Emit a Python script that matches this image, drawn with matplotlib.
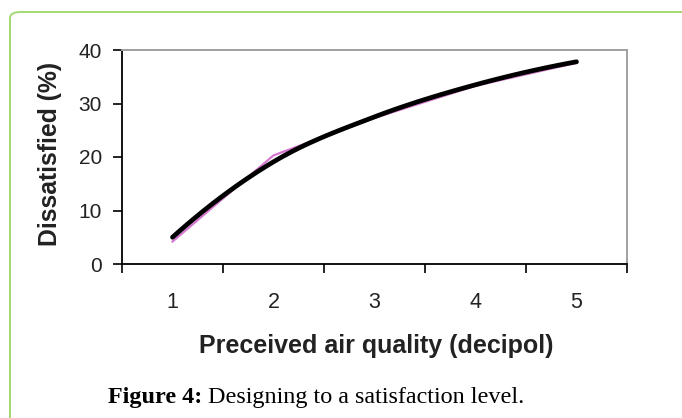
import matplotlib
matplotlib.use("Agg")
import matplotlib.pyplot as plt
import numpy as np
from matplotlib.patches import FancyBboxPatch

# Data
categories = ["1", "2", "3", "4", "5"]
dissatisfied_fit = [5.0, 19.1, 27.5, 33.5, 37.8]      # black smoothed curve
dissatisfied_design = [4.2, 20.3, 27.3, 33.3, 37.6]   # magenta line
y_ticks = [0, 10, 20, 30, 40]

W, H = 682, 418
fig = plt.figure(figsize=(W / 100, H / 100), dpi=100)

# green rounded frame
frame = FancyBboxPatch((10 / W, -0.2), 1.2, (H - 12) / H + 0.2,
                       boxstyle="round,pad=0,rounding_size=0.015",
                       transform=fig.transFigure, facecolor="none",
                       edgecolor="#a3d874", linewidth=1.4, zorder=-5)
fig.patches.append(frame)

ax = fig.add_axes([122 / W, (H - 264) / H, (627 - 122) / W, (264 - 50) / H])
ax.set_facecolor("none")

x = np.arange(1, len(categories) + 1)


def catmull_rom(xs, ys, n=30):
    xs = np.asarray(xs, float)
    ys = np.asarray(ys, float)
    # quadratic extrapolation for phantom end points
    px = np.concatenate([[3 * xs[0] - 3 * xs[1] + xs[2]], xs, [3 * xs[-1] - 3 * xs[-2] + xs[-3]]])
    py = np.concatenate([[3 * ys[0] - 3 * ys[1] + ys[2]], ys, [3 * ys[-1] - 3 * ys[-2] + ys[-3]]])
    outx, outy = [], []
    for i in range(1, len(px) - 2):
        t = np.linspace(0, 1, n, endpoint=(i == len(px) - 3))
        for arr, out in ((px, outx), (py, outy)):
            p0, p1, p2, p3 = arr[i - 1], arr[i], arr[i + 1], arr[i + 2]
            out.extend(0.5 * ((2 * p1) + (-p0 + p2) * t
                              + (2 * p0 - 5 * p1 + 4 * p2 - p3) * t ** 2
                              + (-p0 + 3 * p1 - 3 * p2 + p3) * t ** 3))
    return np.array(outx), np.array(outy)


ax.plot(x, dissatisfied_design, color="#d678d0", linewidth=1.6, zorder=2)
sx, sy = catmull_rom(x, dissatisfied_fit)
ax.plot(sx, sy, color="black", linewidth=3.4, solid_capstyle="round", zorder=3)

ax.set_xlim(0.5, len(categories) + 0.5)
ax.set_ylim(0, 40)

tick_color = "#222222"
ax.set_yticks(y_ticks)
ax.set_yticklabels([str(v) for v in y_ticks], fontsize=15, family="Liberation Sans", color=tick_color)
ax.set_xticks(np.arange(0.5, len(categories) + 1, 1.0))
ax.set_xticklabels([])
ax.set_xticks(x, minor=True)
ax.set_xticklabels(categories, minor=True, fontsize=15.5, family="Liberation Sans", color=tick_color)

ax.tick_params(axis="y", which="major", direction="out", length=6.5, width=1.2, pad=8)
ax.tick_params(axis="x", which="major", direction="out", length=6.5, width=1.2)
ax.tick_params(axis="x", which="minor", length=0, pad=20)

for s in ("left", "bottom"):
    ax.spines[s].set_color("black")
    ax.spines[s].set_linewidth(1.3)
for s in ("top", "right"):
    ax.spines[s].set_color("#a0a0a0")
    ax.spines[s].set_linewidth(1.4)

fig.text(50 / W, 1 - 154 / H, "Dissatisfied (%)", rotation=90, ha="center", va="center",
         fontsize=17.8, fontweight="bold", family="Liberation Sans", color=tick_color)
fig.text(376 / W, 1 - 353 / H, "Preceived air quality (decipol)", ha="center", va="baseline",
         fontsize=18, fontweight="bold", family="Liberation Sans", color=tick_color)

base_y = 1 - 403 / H
t1 = fig.text(108 / W, base_y, "Figure 4:", ha="left", va="baseline",
              fontsize=17.4, fontweight="bold", family="Liberation Serif", color="black")
t2 = fig.text(0, base_y, " Designing to a satisfaction level.", ha="left", va="baseline",
              fontsize=17.4, family="Liberation Serif", color="black")
fig.canvas.draw()
bb = t1.get_window_extent()
t2.set_position((bb.x1 / fig.bbox.width, base_y))

fig.savefig("out.png", dpi=100)
